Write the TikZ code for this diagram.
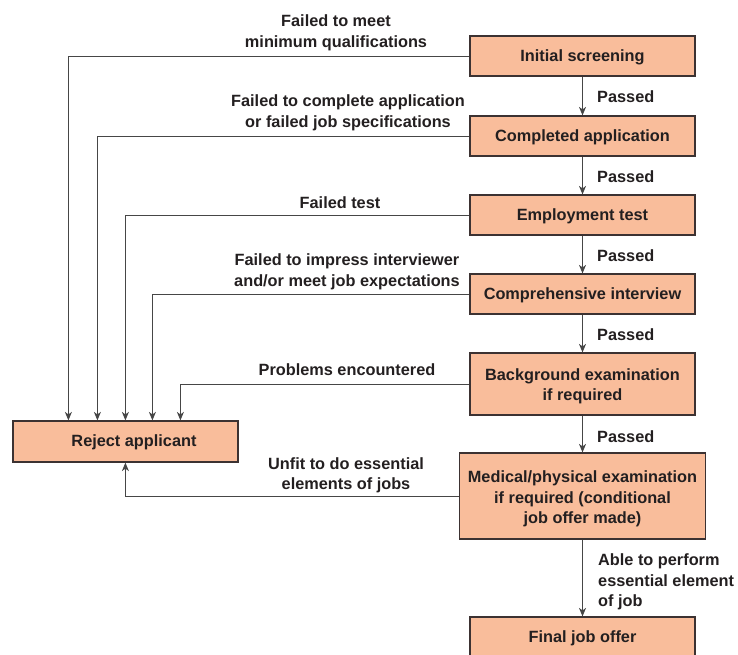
\documentclass[tikz,border=0pt]{standalone}
\usepackage{fontspec}
\setmainfont{Liberation Sans}
\usetikzlibrary{arrows.meta,calc}
\definecolor{boxfill}{RGB}{249,189,155}
\definecolor{boxline}{RGB}{60,50,50}
\definecolor{linec}{RGB}{70,70,70}
\definecolor{txt}{RGB}{35,31,32}
\begin{document}
\begin{tikzpicture}[x=1pt,y=-1pt,
  font=\fontsize{16.3}{20.5}\selectfont\bfseries, text=txt,
  box/.style={draw=boxline, line width=1.2pt, fill=boxfill, align=center,
    inner sep=0pt, minimum height=40pt, minimum width=225pt},
  onebox/.style={box, text height=12pt, text depth=1.5pt},
  conn/.style={draw=linec, line width=1pt,
    -{Stealth[length=8.5pt,width=7pt,inset=2.5pt]}},
  lbl/.style={align=center, inner sep=0pt}]
\useasboundingbox (0,0) rectangle (738,654);
\clip (0,0) rectangle (738,654);
% boxes
\node[onebox] (b1) at (582.5,56) {Initial screening};
\node[onebox] (b2) at (582.5,136) {Completed application};
\node[onebox] (b3) at (582.5,215) {Employment test};
\node[onebox] (b4) at (582.5,294) {Comprehensive interview};
\node[box, minimum height=62pt] (b5) at (582.5,384) {\rule{0pt}{16pt}Background examination\\if required};
\node[box, minimum width=246pt, minimum height=86pt] (b6) at (582.5,496) {\rule{0pt}{18pt}Medical/physical examination\\if required (conditional\\job offer made)};
\node[onebox] (b7) at (582.5,637) {Final job offer};
\node[onebox, minimum height=41pt] (rej) at (125.5,441.5) {\hspace*{17pt}Reject applicant};
% labels
\node[lbl] (l1) at (336,33) {Failed to meet\\minimum qualifications};
\node[lbl] (l2) at (348,113) {Failed to complete application\\or failed job specifications};
\node[lbl] (l3) at (340,203) {Failed test};
\node[lbl] (l4) at (347,272) {Failed to impress interviewer\\and/or meet job expectations};
\node[lbl] (l5) at (347,370) {Problems encountered};
\node[lbl] (l6) at (346,475.5) {Unfit to do essential\\elements of jobs};
\node[lbl, anchor=west] (p1) at (597,97) {Passed};
\node[lbl, anchor=west] (p2) at (597,177) {Passed};
\node[lbl, anchor=west] (p3) at (597,256) {Passed};
\node[lbl, anchor=west] (p4) at (597,335) {Passed};
\node[lbl, anchor=west] (p5) at (597,437) {Passed};
\node[lbl, anchor=west, align=left] (p6) at (598,582) {Able to perform\\essential element\\of job};
% vertical flow
\draw[conn] (b1) -- (b2);
\draw[conn] (b2) -- (b3);
\draw[conn] (b3) -- (b4);
\draw[conn] (b4) -- (b5);
\draw[conn] (b5) -- (b6);
\draw[conn] (b6) -- (b7);
% rejections
\draw[conn] (b1.west) -| ([xshift=56pt]rej.north west);
\draw[conn] (b2.west) -| ([xshift=85pt]rej.north west);
\draw[conn] (b3.west) -| ([xshift=113pt]rej.north west);
\draw[conn] (b4.west) -| ([xshift=140pt]rej.north west);
\draw[conn] (b5.west) -| ([xshift=168pt]rej.north west);
\draw[conn] (b6.west) -| ([xshift=113pt]rej.south west);
\end{tikzpicture}
\end{document}
